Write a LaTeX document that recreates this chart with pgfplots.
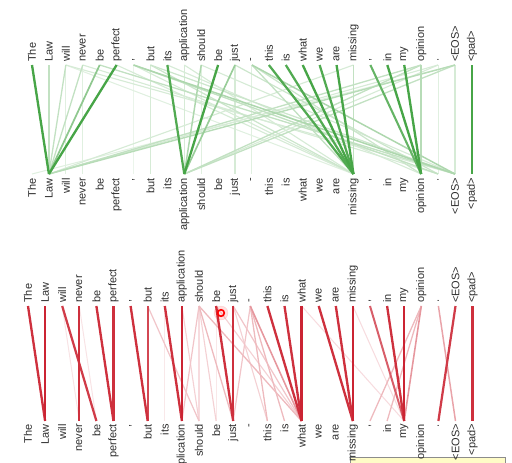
\documentclass[border=0pt]{standalone}
\usepackage{pgfplots}
\pgfplotsset{compat=1.18}
\usepackage{pgfplotstable}
\usepackage{fontspec}
\setmainfont{Liberation Sans}

\pgfplotstableread{
i tok
0 The
1 Law
2 will
3 never
4 be
5 perfect
6 ,
7 but
8 its
9 application
10 should
11 be
12 just
13 -
14 this
15 is
16 what
17 we
18 are
19 missing
20 ,
21 in
22 my
23 opinion
24 .
25 <EOS>
26 <pad>
}\tokens

% green panel: source (top) token, target (bottom) token, weight
\pgfplotstableread{
s d w
6 6 0.10
2 2 0.15
3 3 0.15
10 10 0.15
13 13 0.15
24 24 0.15
25 0 0.15
2 19 0.15
7 7 0.20
12 12 0.20
25 25 0.20
9 9 0.20
9 19 0.20
6 19 0.20
10 25 0.20
2 25 0.20
3 24 0.20
8 23 0.20
19 1 0.20
24 1 0.20
24 9 0.20
5 19 0.20
7 25 0.25
13 23 0.25
12 24 0.25
7 19 0.25
6 24 0.30
4 25 0.30
3 1 0.30
2 1 0.30
1 1 0.30
19 19 0.30
13 19 0.30
23 1 0.30
23 9 0.30
25 9 0.30
23 23 0.35
25 1 0.35
6 25 0.40
13 25 0.40
10 9 0.40
12 9 0.50
4 1 0.55
20 23 0.75
8 9 0.85
14 19 0.85
15 19 0.85
17 19 0.85
0 1 0.90
5 1 0.90
11 9 0.90
16 19 0.90
18 19 0.90
21 23 0.90
22 23 0.90
26 26 0.90
}\greenedges

% red panel
\pgfplotstableread{
s d w
8 8 0.10
11 11 0.10
2 3 0.12
3 4 0.12
10 10 0.15
19 22 0.15
16 22 0.15
9 10 0.20
10 11 0.20
11 16 0.20
12 14 0.20
13 12 0.25
7 10 0.25
12 16 0.25
10 9 0.25
10 16 0.30
10 12 0.30
13 14 0.30
13 15 0.30
23 20 0.30
23 21 0.30
24 25 0.40
13 16 0.45
23 22 0.45
20 22 0.70
7 7 0.80
25 24 0.85
2 4 0.85
0 1 0.90
3 3 0.90
4 5 0.90
5 5 0.90
6 7 0.90
8 9 0.90
11 12 0.90
12 12 0.90
14 16 0.90
15 16 0.90
17 19 0.90
18 19 0.90
21 22 0.90
26 26 0.90
1 1 0.95
9 9 0.95
16 16 0.95
19 19 0.95
22 22 0.95
}\rededges

\begin{document}
\begin{tikzpicture}
\path[use as bounding box, clip] (0,0) rectangle (512pt,463pt);
\begin{axis}[
  at={(0,0)}, anchor=south west,
  width=512pt, height=463pt, scale only axis,
  xmin=0, xmax=512, ymin=0, ymax=463, y dir=reverse,
  hide axis, clip=false,
  point meta min=-1, point meta max=1,
  colormap={rg}{rgb255=(200,25,40) rgb255=(255,255,255) rgb255=(50,155,50)},
  lab/.style={draw=none, mark=none, nodes near coords, point meta=explicit symbolic,
    every node near coord/.append style={rotate=90, anchor=#1, inner sep=0pt,
      font=\fontsize{11}{13}\selectfont, text=black!82}},
]
% green edges
\addplot[mark=none, point meta=\thisrow{w},
  quiver={u=16.92*(\thisrow{d}-\thisrow{s}), v=109, colored,
    every arrow/.append style={line width={(0.8+1.7*abs(\pgfplotspointmetatransformed-500)/500)*1pt}}}]
  table[x expr=32+16.92*\thisrow{s}, y expr=65] {\greenedges};
% red edges
\addplot[mark=none, point meta=-\thisrow{w},
  quiver={u=17.1*(\thisrow{d}-\thisrow{s}), v=115, colored,
    every arrow/.append style={line width={(0.8+1.7*abs(\pgfplotspointmetatransformed-500)/500)*1pt}}}]
  table[x expr=28+17.1*\thisrow{s}, y expr=306] {\rededges};

% labels
\addplot[lab=west] table[x expr=32+16.92*\thisrow{i}, y expr=62, meta=tok] {\tokens};
\addplot[lab=east] table[x expr=32+16.92*\thisrow{i}, y expr=178, meta=tok] {\tokens};
\addplot[lab=west] table[x expr=28+17.1*\thisrow{i}, y expr=303, meta=tok] {\tokens};
\addplot[lab=east] table[x expr=28+17.1*\thisrow{i}, y expr=424, meta=tok] {\tokens};

% cursor highlight
\addplot[only marks, mark=*, mark size=7, red, opacity=0.12] coordinates {(221,313)};
\addplot[only marks, mark=o, mark size=3.3, red, line width=1.6pt] coordinates {(221,313)};
% tooltip edge
\fill[yellow!22, draw=black!45] (axis cs:350,457) rectangle (axis cs:505,480);
\end{axis}
\end{tikzpicture}
\end{document}
